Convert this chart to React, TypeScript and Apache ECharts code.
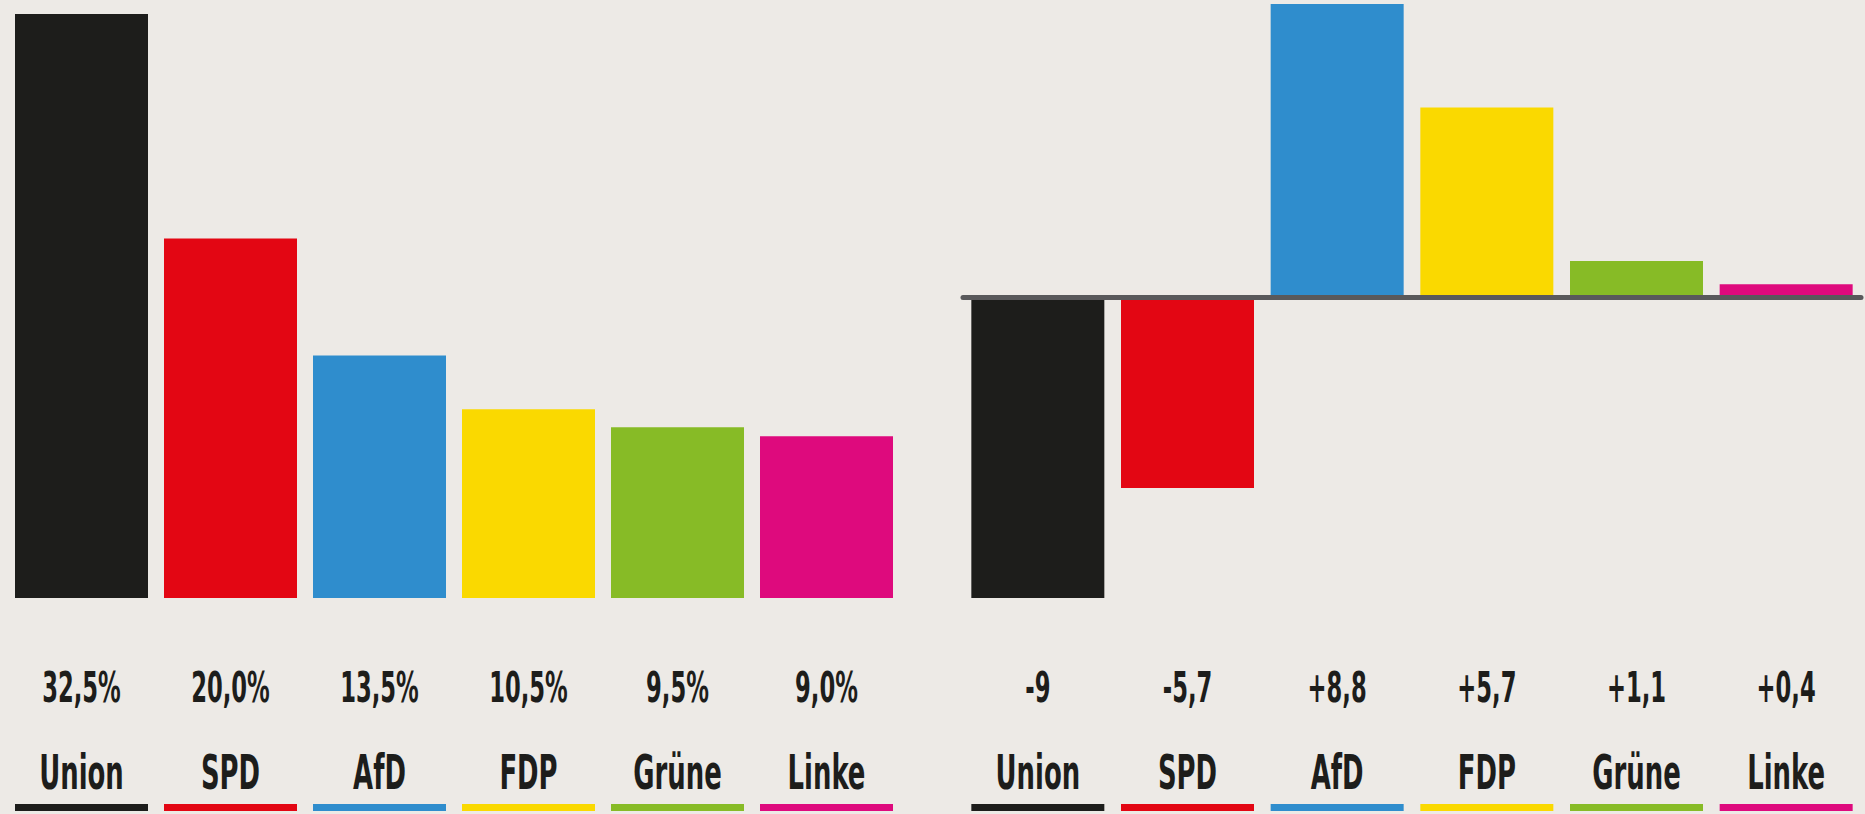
import React, { useEffect, useRef } from "react";
import * as echarts from "echarts";

const parties = ["Union", "SPD", "AfD", "FDP", "Grüne", "Linke"];
const partyColors = ["#1d1d1b", "#e30613", "#2f8dcd", "#fad900", "#87bb26", "#de0a7d"];
const voteShare = [32.5, 20.0, 13.5, 10.5, 9.5, 9.0];
const voteChange = [-9, -5.7, 8.8, 5.7, 1.1, 0.4];

const fmtShare = (v: number) => v.toFixed(1).replace(".", ",") + "%";
const fmtChange = (v: number) => (v > 0 ? "+" : "") + String(v).replace(".", ",");

const FONT = "'Liberation Sans Narrow', 'DejaVu Sans Condensed', 'Liberation Sans', sans-serif";
const TEXT_COLOR = "#1d1d1b";

export default function App() {
  const ref = useRef<HTMLDivElement>(null);
  useEffect(() => {
    if (!ref.current) return;
    const chart = echarts.init(ref.current, null, { renderer: "svg" });
    const barW = 133;
    const hiddenY = {
      type: "value",
      axisLine: { show: false },
      axisTick: { show: false },
      axisLabel: { show: false },
      splitLine: { show: false },
    };
    chart.setOption({
      animation: false,
      backgroundColor: "#edeae6",
      grid: [
        { left: 7, top: 14, width: 894, height: 584 },
        { left: 963, top: 4, width: 898, height: 594 },
      ],
      xAxis: [
        {
          type: "category",
          gridIndex: 0,
          data: parties,
          axisLine: { show: false },
          axisTick: { show: false },
          axisLabel: { show: false },
        },
        {
          type: "category",
          gridIndex: 1,
          data: parties,
          z: 5,
          axisLine: { show: true, onZero: true, lineStyle: { color: "#59595b", width: 5 } },
          axisTick: { show: false },
          axisLabel: { show: false },
        },
      ],
      yAxis: [
        { ...hiddenY, gridIndex: 0, min: 0, max: 32.5 },
        { ...hiddenY, gridIndex: 1, min: -9, max: 8.8 },
      ],
      series: [
        {
          type: "bar",
          xAxisIndex: 0,
          yAxisIndex: 0,
          barWidth: barW,
          data: voteShare.map((v, i) => ({ value: v, itemStyle: { color: partyColors[i] } })),
        },
        {
          type: "bar",
          xAxisIndex: 1,
          yAxisIndex: 1,
          barWidth: barW,
          data: voteChange.map((v, i) => ({ value: v, itemStyle: { color: partyColors[i] } })),
        },
      ],
    });

    const graphics: any[] = [];
    const addLabels = (gridIndex: number, labels: string[]) => {
      parties.forEach((p, i) => {
        const pt = chart.convertToPixel({ gridIndex } as any, [i, 0]) as number[];
        const cx = pt[0];
        graphics.push({
          type: "text",
          x: cx,
          y: 687,
          scaleX: 0.6,
          style: {
            text: labels[i],
            fontSize: 42,
            fontWeight: "bold",
            fontFamily: FONT,
            fill: TEXT_COLOR,
            align: "center",
            verticalAlign: "middle",
          },
        });
        graphics.push({
          type: "text",
          x: cx,
          y: 772,
          scaleX: 0.6,
          style: {
            text: p,
            fontSize: 48,
            fontWeight: "bold",
            fontFamily: FONT,
            fill: TEXT_COLOR,
            align: "center",
            verticalAlign: "middle",
          },
        });
        graphics.push({
          type: "rect",
          shape: { x: cx - barW / 2, y: 804, width: barW, height: 7 },
          style: { fill: partyColors[i] },
        });
      });
    };
    addLabels(0, voteShare.map(fmtShare));
    addLabels(1, voteChange.map(fmtChange));
    chart.setOption({ graphic: graphics });

    return () => chart.dispose();
  }, []);
  return (
    <div
      ref={ref}
      style={{ position: "fixed", left: 0, top: 0, width: 1865, height: 814 }}
    />
  );
}
